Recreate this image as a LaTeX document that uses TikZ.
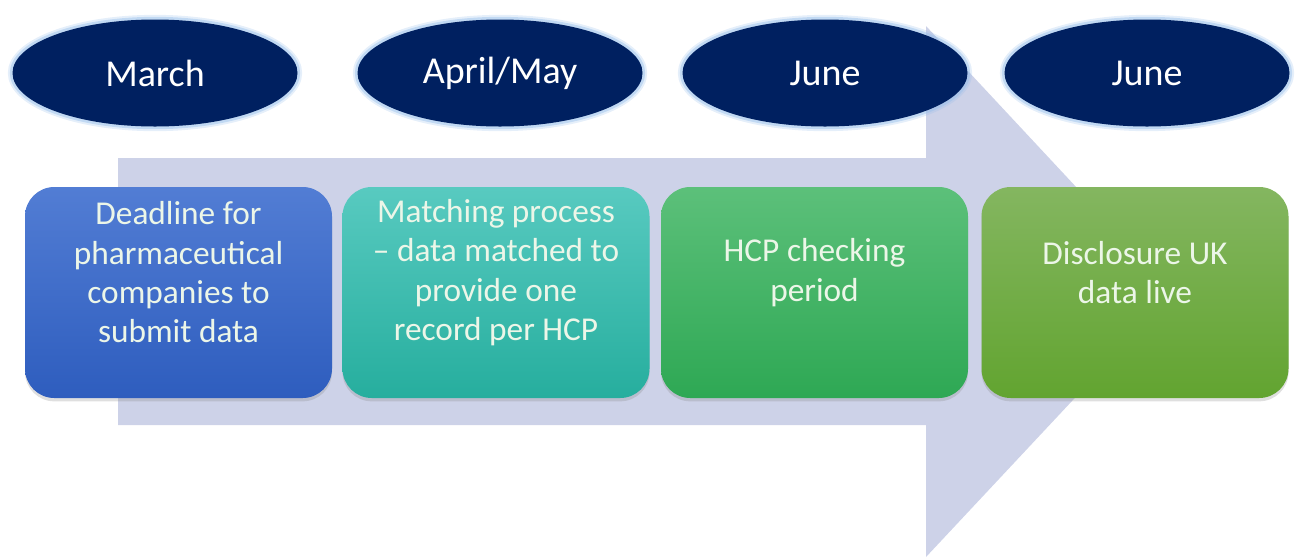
\documentclass[tikz,border=0pt]{standalone}
\usepackage{fontspec}
\setmainfont{Carlito}
\usetikzlibrary{shapes.geometric,shadows}
\definecolor{navy}{RGB}{0,32,96}
\definecolor{glow}{RGB}{150,190,235}
\definecolor{arrowfill}{RGB}{205,210,232}
\definecolor{txt}{RGB}{236,246,232}
\definecolor{bAt}{RGB}{82,125,212}\definecolor{bAb}{RGB}{46,93,190}
\definecolor{bBt}{RGB}{88,202,192}\definecolor{bBb}{RGB}{38,174,158}
\definecolor{bCt}{RGB}{92,192,122}\definecolor{bCb}{RGB}{46,168,84}
\definecolor{bDt}{RGB}{132,182,96}\definecolor{bDb}{RGB}{98,164,48}
\tikzset{
  month/.style={ellipse, fill=navy, inner sep=0pt, minimum width=213.75pt, minimum height=80.25pt,
    text=white, font=\fontsize{28.5}{32}\selectfont},
  stepbox/.style={rounded corners=22pt, minimum width=230.25pt, minimum height=158.25pt, inner sep=0pt,
    drop shadow={shadow xshift=0pt, shadow yshift=-2.5pt, opacity=0.25}},
  steptext/.style={align=center, text=txt, inner sep=0pt, font=\fontsize{25}{29.5}\selectfont},
}
\begin{document}
\begin{tikzpicture}[x=0.75pt,y=-0.75pt]
\useasboundingbox (0,0) rectangle (1307,558);
% big background arrow
\fill[arrowfill] (118,158) -- (926,158) -- (926,26) -- (1174,292) -- (926,557) -- (926,425) -- (118,425) -- cycle;
% month ellipses with glow
\foreach \cx/\nm/\lbl in {155/m1/March, 500/m2/April\slash May, 825/m3/June, 1147/m4/June}{
  \draw[glow, line width=7pt, opacity=0.25] (\cx,73) ellipse [x radius=142.5, y radius=53.5];
  \draw[glow, line width=4pt, opacity=0.45] (\cx,73) ellipse [x radius=142.5, y radius=53.5];
  \node[month] (\nm) at (\cx,73) {\lbl};
}
% step boxes
\node[stepbox, top color=bAt, bottom color=bAb] (s1) at (178.5,292.5) {};
\node[stepbox, top color=bBt, bottom color=bBb] (s2) at (496,292.5) {};
\node[stepbox, top color=bCt, bottom color=bCb] (s3) at (814.5,292.5) {};
\node[stepbox, top color=bDt, bottom color=bDb] (s4) at (1135,292.5) {};
\node[steptext] (t1) at ([yshift=15pt]s1.center) {Deadline for\\pharmaceutical\\companies to\\submit data};
\node[steptext] (t2) at ([yshift=15pt]s2.center) {Matching process\\– data matched to\\provide one\\record per HCP};
\node[steptext] (t3) at ([yshift=15pt]s3.center) {HCP checking\\period};
\node[steptext] (t4) at ([yshift=15pt]s4.center) {Disclosure UK\\data live};
\end{tikzpicture}
\end{document}
